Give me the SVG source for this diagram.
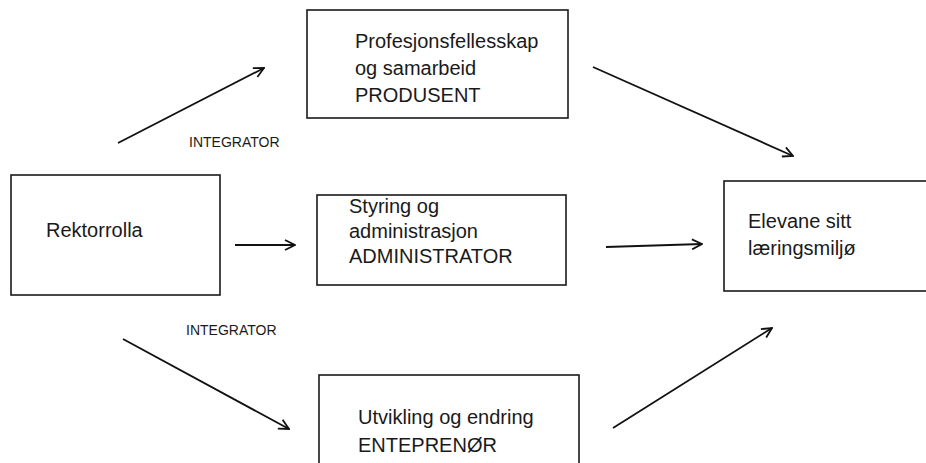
<svg xmlns="http://www.w3.org/2000/svg" width="926" height="463" viewBox="0 0 926 463">
<style>
.box{fill:#fff;stroke:#1a1a1a;stroke-width:1.6}
.t{font-family:"Liberation Sans",Arial,sans-serif;font-size:20px;fill:#1a1a1a}
.s{font-family:"Liberation Sans",Arial,sans-serif;font-size:14px;fill:#1a1a1a}
.c{fill:none;stroke:#111;stroke-width:1.8;marker-end:url(#ah)}
</style>
<defs>
<marker id="ah" viewBox="0 0 12 12" refX="11" refY="6" markerWidth="12" markerHeight="12" markerUnits="userSpaceOnUse" orient="auto">
<path d="M1,1 L11,6 L1,11" fill="none" stroke="#111" stroke-width="1.8"/>
</marker>
</defs>
<rect width="926" height="463" fill="#fff"/>
<g id="node-profesjon">
<rect class="box" x="307" y="10" width="261" height="108"/>
<text class="t" x="355" y="48">Profesjonsfellesskap</text>
<text class="t" x="355" y="75">og samarbeid</text>
<text class="t" x="355" y="102">PRODUSENT</text>
</g>
<g id="node-rektor">
<rect class="box" x="11" y="175" width="209" height="120"/>
<text class="t" x="46" y="237">Rektorrolla</text>
</g>
<g id="node-styring">
<rect class="box" x="317" y="195" width="249" height="90"/>
<text class="t" x="349" y="213">Styring og</text>
<text class="t" x="349" y="238">administrasjon</text>
<text class="t" x="349" y="263">ADMINISTRATOR</text>
</g>
<g id="node-elevane">
<rect class="box" x="724" y="181" width="210" height="110"/>
<text class="t" x="748" y="228">Elevane sitt</text>
<text class="t" x="748" y="255">læringsmiljø</text>
</g>
<g id="node-utvikling">
<rect class="box" x="319" y="375" width="260" height="100"/>
<text class="t" x="358" y="424">Utvikling og endring</text>
<text class="t" x="358" y="452">ENTEPRENØR</text>
</g>
<g id="labels">
<text class="s" x="189" y="147">INTEGRATOR</text>
<text class="s" x="186" y="335">INTEGRATOR</text>
</g>
<g id="connectors">
<line class="c" x1="118" y1="143" x2="264" y2="68"/>
<line class="c" x1="593" y1="67" x2="793" y2="156"/>
<line class="c" x1="235" y1="245" x2="295" y2="245"/>
<line class="c" x1="606" y1="247" x2="702" y2="244"/>
<line class="c" x1="123" y1="339" x2="289" y2="429"/>
<line class="c" x1="613" y1="428" x2="772" y2="328"/>
</g>
</svg>
